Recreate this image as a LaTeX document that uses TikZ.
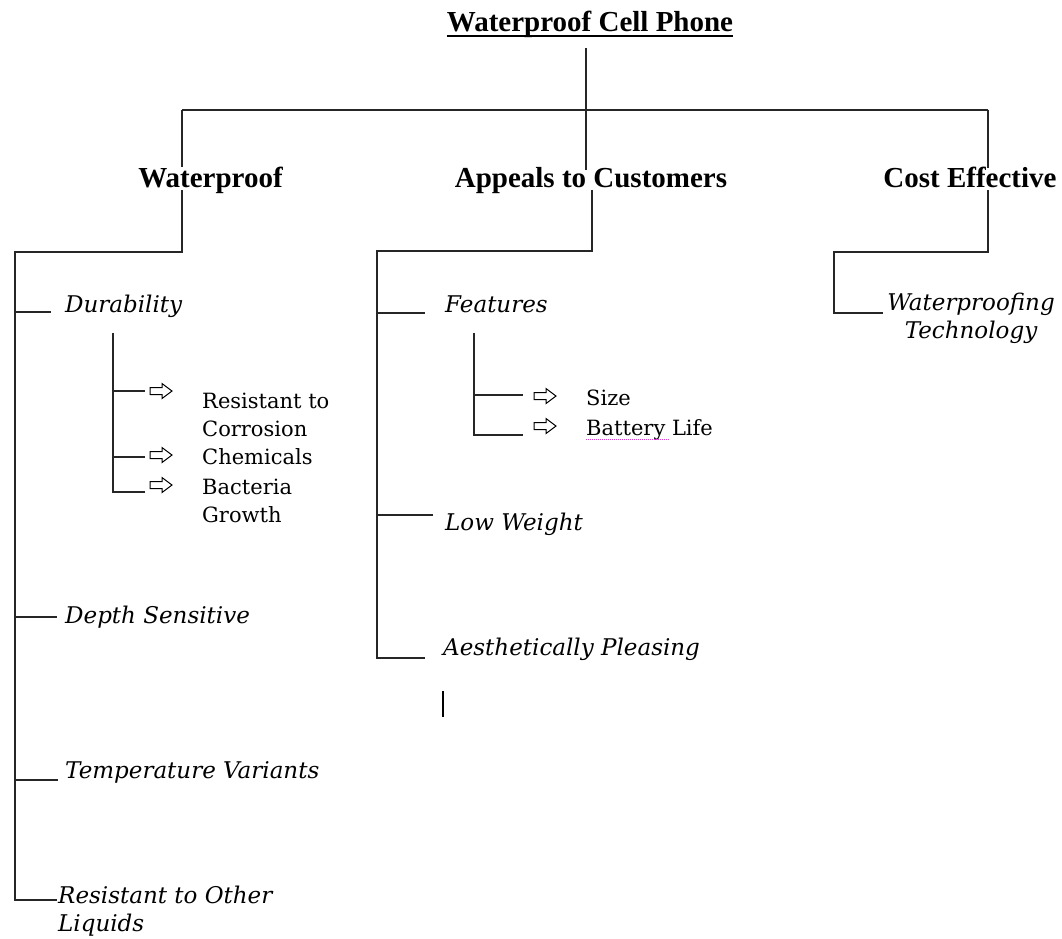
\documentclass[tikz,border=0pt]{standalone}
\usepackage{fontspec}
\setmainfont{Liberation Serif}
\newfontfamily\itemfont{DejaVu Serif}
\begin{document}
\begin{tikzpicture}[x=1pt,y=-1pt,
  ln/.style={line width=1.4pt, draw=black!85},
  head/.style={font=\fontsize{29}{33}\selectfont\bfseries, inner sep=0pt, anchor=base},
  itm/.style={font=\itemfont\fontsize{23}{28}\selectfont\itshape, inner sep=0pt, anchor=base west, align=left},
  subitm/.style={font=\itemfont\fontsize{21}{28}\selectfont, inner sep=0pt, anchor=base west, align=left},
  warrow/.pic={\draw[line width=1pt, fill=white] (0,-3.5) -- (12,-3.5) -- (12,-7.5) -- (22,0) -- (12,7.5) -- (12,3.5) -- (0,3.5) -- cycle;}
]
\useasboundingbox[fill=white] (0,0) rectangle (1062,938);

% title and headings
\node[head] (title) at (590,31) {Waterproof Cell Phone};
\draw[line width=2pt] ([yshift=-5pt]title.base west) -- ([yshift=-5pt]title.base east);
\node[head] (hw) at (210.5,187) {Waterproof};
\node[head] (ha) at (591,187) {Appeals to Customers};
\node[head] (hc) at (970,187) {Cost Effective};

% items (multi-line nodes are placed by the baseline of their last line)
\node[itm] (dur) at (65,312) {Durability};
\node[itm] (dep) at (65,623) {Depth Sensitive};
\node[itm] (tem) at (65,778) {Temperature Variants};
\node[itm] (rol) at (58,931) {Resistant to Other\\Liquids};
\node[itm] (fea) at (445,312) {Features};
\node[itm] (low) at (445,530) {Low Weight};
\node[itm] (aes) at (443,655) {Aesthetically Pleasing};
\node[itm, align=center, anchor=base] (wpt) at (971,338) {Waterproofing\\Technology};

% sub items
\node[subitm] (rc) at (202,436) {Resistant to\\Corrosion};
\node[subitm] (ch) at (202,464) {Chemicals};
\node[subitm] (bg) at (202,522) {Bacteria\\Growth};
\node[subitm] (sz) at (586,405) {Size};
\node[subitm] (bl) at (586,435) {Battery Life};
\draw[densely dotted, line width=1pt, draw={rgb,255:red,214;green,64;blue,214}] ([yshift=-4.5pt]bl.base west) -- ++(84,0);

% arrows
\pic at (150,391) {warrow};
\pic at (150,455) {warrow};
\pic at (150,485) {warrow};
\pic at (534,396) {warrow};
\pic at (534,426) {warrow};

% connector coordinates
\coordinate (t0) at (586,48);
\coordinate (t1) at (586,170);
\coordinate (hL) at (182,110);
\coordinate (hR) at (988,110);
\coordinate (wT) at (182,167);
\coordinate (wB) at (182,190);
\coordinate (wJ) at (182,252);
\coordinate (lT) at (15,252);
\coordinate (lB) at (15,900);
\coordinate (rolT) at (57,900);
\coordinate (durL) at (15,312);
\coordinate (durT) at (51,312);
\coordinate (depL) at (15,617);
\coordinate (depT) at (57,617);
\coordinate (temL) at (15,780);
\coordinate (temT) at (58,780);
\coordinate (dsT) at (113,333);
\coordinate (dsB) at (113,492);
\coordinate (bgT) at (145,492);
\coordinate (rcL) at (113,391);
\coordinate (rcT) at (145,391);
\coordinate (chL) at (113,457);
\coordinate (chT) at (145,457);
\coordinate (aB) at (592,190);
\coordinate (aJ) at (592,251);
\coordinate (mT) at (377,251);
\coordinate (mB) at (377,658);
\coordinate (aesT) at (425,658);
\coordinate (feaL) at (377,313);
\coordinate (feaT) at (425,313);
\coordinate (lowL) at (377,515);
\coordinate (lowT) at (433,515);
\coordinate (fsT) at (474,333);
\coordinate (fsB) at (474,435);
\coordinate (blT) at (523,435);
\coordinate (szL) at (474,395);
\coordinate (szT) at (523,395);
\coordinate (cT) at (988,168);
\coordinate (cB) at (988,190);
\coordinate (cJ) at (988,252);
\coordinate (cL) at (834,252);
\coordinate (cLB) at (834,313);
\coordinate (wptT) at (883,313);

% connectors
\draw[ln] (t0) -- (t1);
\draw[ln] (hL) -- (hR);
\draw[ln] (hL) -- (wT);
\draw[ln] (wB) -- (wJ) -- (lT) -- (lB) -- (rolT);
\draw[ln] (durL) -- (durT);
\draw[ln] (depL) -- (depT);
\draw[ln] (temL) -- (temT);
\draw[ln] (dsT) -- (dsB) -- (bgT);
\draw[ln] (rcL) -- (rcT);
\draw[ln] (chL) -- (chT);
\draw[ln] (aB) -- (aJ) -- (mT) -- (mB) -- (aesT);
\draw[ln] (feaL) -- (feaT);
\draw[ln] (lowL) -- (lowT);
\draw[ln] (fsT) -- (fsB) -- (blT);
\draw[ln] (szL) -- (szT);
\draw[ln] (hR) -- (cT);
\draw[ln] (cB) -- (cJ) -- (cL) -- (cLB) -- (wptT);

% text cursor
\draw[line width=2.6pt] (443,691) -- (443,717);
\end{tikzpicture}
\end{document}
